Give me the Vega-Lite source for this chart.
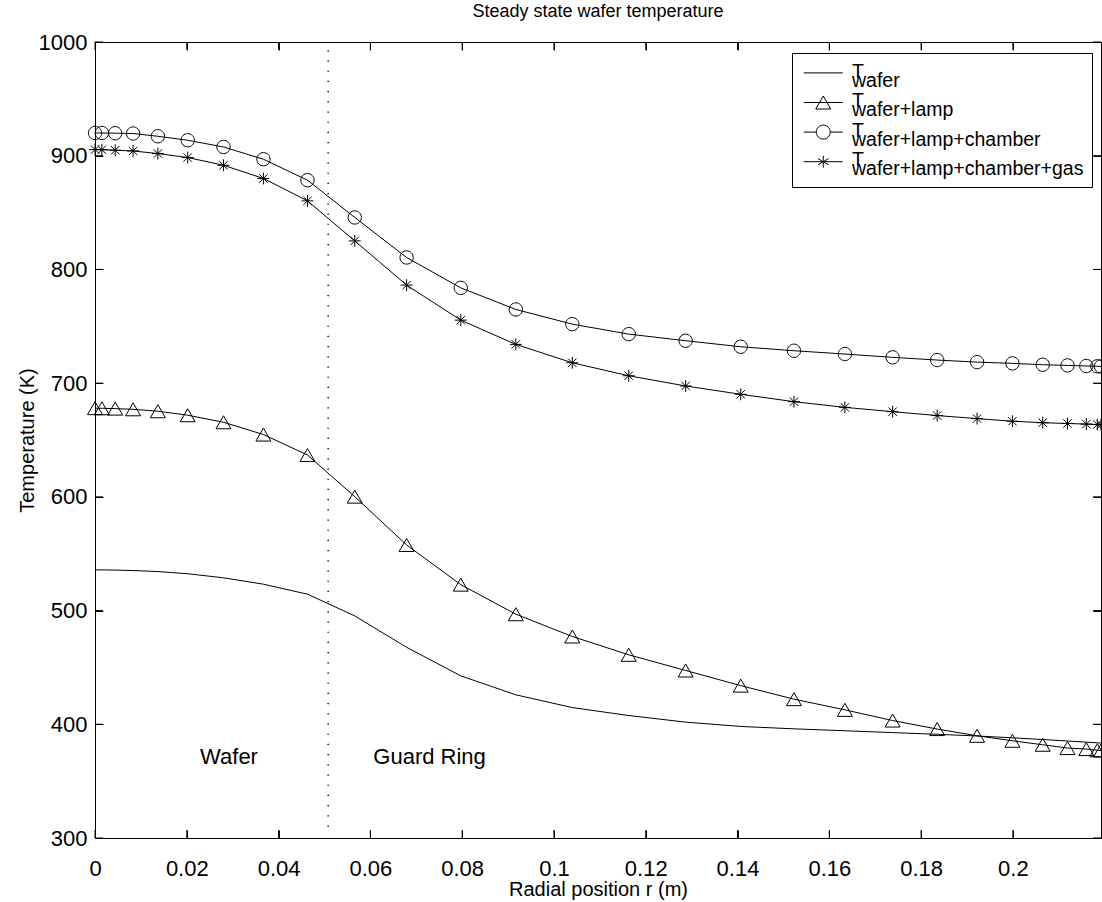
{
  "$schema": "https://vega.github.io/schema/vega-lite/v6.json",
  "width": 1006,
  "height": 796,
  "autosize": {"type": "none"},
  "padding": {"left": 95, "top": 42, "right": 1, "bottom": 64},
  "background": "white",
  "config": {
    "font": "Liberation Sans",
    "view": {"stroke": "black", "strokeWidth": 1},
    "axis": {"labelColor": "black", "titleColor": "black", "domain": false, "grid": false, "labelFontSize": 22, "titleFontSize": 20, "titleFontWeight": "normal"},
    "title": {"color": "black", "fontWeight": "normal", "fontSize": 18},
    "style": {"guide-label": {"lineHeight": 9}}
  },
  "title": {"text": "Steady state wafer temperature", "anchor": "middle", "offset": 10},
  "resolve": {"scale": {"shape": "independent"}},
  "datasets": {
    "temps": [
      {"r": 0, "T": 535.8, "s": "wafer"},
      {"r": 0.0015, "T": 535.8, "s": "wafer"},
      {"r": 0.0044, "T": 535.6, "s": "wafer"},
      {"r": 0.0083, "T": 535.2, "s": "wafer"},
      {"r": 0.0137, "T": 534.3, "s": "wafer"},
      {"r": 0.0202, "T": 532.4, "s": "wafer"},
      {"r": 0.028, "T": 528.8, "s": "wafer"},
      {"r": 0.0367, "T": 523.2, "s": "wafer"},
      {"r": 0.0463, "T": 514.4, "s": "wafer"},
      {"r": 0.0566, "T": 495.3, "s": "wafer"},
      {"r": 0.0679, "T": 467.7, "s": "wafer"},
      {"r": 0.0797, "T": 442.6, "s": "wafer"},
      {"r": 0.0917, "T": 425.9, "s": "wafer"},
      {"r": 0.104, "T": 414.7, "s": "wafer"},
      {"r": 0.1163, "T": 407.7, "s": "wafer"},
      {"r": 0.1287, "T": 401.9, "s": "wafer"},
      {"r": 0.1407, "T": 398.1, "s": "wafer"},
      {"r": 0.1523, "T": 396.0, "s": "wafer"},
      {"r": 0.1634, "T": 394.3, "s": "wafer"},
      {"r": 0.1738, "T": 392.7, "s": "wafer"},
      {"r": 0.1835, "T": 391.2, "s": "wafer"},
      {"r": 0.1922, "T": 389.7, "s": "wafer"},
      {"r": 0.1999, "T": 388.1, "s": "wafer"},
      {"r": 0.2065, "T": 386.6, "s": "wafer"},
      {"r": 0.2119, "T": 385.3, "s": "wafer"},
      {"r": 0.216, "T": 384.3, "s": "wafer"},
      {"r": 0.2184, "T": 383.7, "s": "wafer"},
      {"r": 0.2192, "T": 383.5, "s": "wafer"},
      {"r": 0, "T": 678.0, "s": "wafer+lamp"},
      {"r": 0.0015, "T": 677.9, "s": "wafer+lamp"},
      {"r": 0.0044, "T": 677.6, "s": "wafer+lamp"},
      {"r": 0.0083, "T": 677.0, "s": "wafer+lamp"},
      {"r": 0.0137, "T": 675.3, "s": "wafer+lamp"},
      {"r": 0.0202, "T": 671.8, "s": "wafer+lamp"},
      {"r": 0.028, "T": 665.6, "s": "wafer+lamp"},
      {"r": 0.0367, "T": 654.8, "s": "wafer+lamp"},
      {"r": 0.0463, "T": 636.8, "s": "wafer+lamp"},
      {"r": 0.0566, "T": 600.2, "s": "wafer+lamp"},
      {"r": 0.0679, "T": 557.7, "s": "wafer+lamp"},
      {"r": 0.0797, "T": 522.8, "s": "wafer+lamp"},
      {"r": 0.0917, "T": 496.8, "s": "wafer+lamp"},
      {"r": 0.104, "T": 477.2, "s": "wafer+lamp"},
      {"r": 0.1163, "T": 461.1, "s": "wafer+lamp"},
      {"r": 0.1287, "T": 447.3, "s": "wafer+lamp"},
      {"r": 0.1407, "T": 434.0, "s": "wafer+lamp"},
      {"r": 0.1523, "T": 422.1, "s": "wafer+lamp"},
      {"r": 0.1634, "T": 412.7, "s": "wafer+lamp"},
      {"r": 0.1738, "T": 403.3, "s": "wafer+lamp"},
      {"r": 0.1835, "T": 395.8, "s": "wafer+lamp"},
      {"r": 0.1922, "T": 389.9, "s": "wafer+lamp"},
      {"r": 0.1999, "T": 385.5, "s": "wafer+lamp"},
      {"r": 0.2065, "T": 382.0, "s": "wafer+lamp"},
      {"r": 0.2119, "T": 379.1, "s": "wafer+lamp"},
      {"r": 0.216, "T": 378.2, "s": "wafer+lamp"},
      {"r": 0.2184, "T": 377.2, "s": "wafer+lamp"},
      {"r": 0.2192, "T": 376.9, "s": "wafer+lamp"},
      {"r": 0, "T": 920.0, "s": "wafer+lamp+chamber"},
      {"r": 0.0015, "T": 920.0, "s": "wafer+lamp+chamber"},
      {"r": 0.0044, "T": 919.8, "s": "wafer+lamp+chamber"},
      {"r": 0.0083, "T": 919.5, "s": "wafer+lamp+chamber"},
      {"r": 0.0137, "T": 917.1, "s": "wafer+lamp+chamber"},
      {"r": 0.0202, "T": 913.6, "s": "wafer+lamp+chamber"},
      {"r": 0.028, "T": 907.7, "s": "wafer+lamp+chamber"},
      {"r": 0.0367, "T": 896.9, "s": "wafer+lamp+chamber"},
      {"r": 0.0463, "T": 878.5, "s": "wafer+lamp+chamber"},
      {"r": 0.0566, "T": 845.7, "s": "wafer+lamp+chamber"},
      {"r": 0.0679, "T": 810.5, "s": "wafer+lamp+chamber"},
      {"r": 0.0797, "T": 783.8, "s": "wafer+lamp+chamber"},
      {"r": 0.0917, "T": 764.8, "s": "wafer+lamp+chamber"},
      {"r": 0.104, "T": 751.9, "s": "wafer+lamp+chamber"},
      {"r": 0.1163, "T": 743.1, "s": "wafer+lamp+chamber"},
      {"r": 0.1287, "T": 737.3, "s": "wafer+lamp+chamber"},
      {"r": 0.1407, "T": 732.0, "s": "wafer+lamp+chamber"},
      {"r": 0.1523, "T": 728.5, "s": "wafer+lamp+chamber"},
      {"r": 0.1634, "T": 725.6, "s": "wafer+lamp+chamber"},
      {"r": 0.1738, "T": 722.7, "s": "wafer+lamp+chamber"},
      {"r": 0.1835, "T": 720.3, "s": "wafer+lamp+chamber"},
      {"r": 0.1922, "T": 718.5, "s": "wafer+lamp+chamber"},
      {"r": 0.1999, "T": 717.4, "s": "wafer+lamp+chamber"},
      {"r": 0.2065, "T": 716.2, "s": "wafer+lamp+chamber"},
      {"r": 0.2119, "T": 715.6, "s": "wafer+lamp+chamber"},
      {"r": 0.216, "T": 715.1, "s": "wafer+lamp+chamber"},
      {"r": 0.2184, "T": 714.8, "s": "wafer+lamp+chamber"},
      {"r": 0.2192, "T": 714.7, "s": "wafer+lamp+chamber"},
      {"r": 0, "T": 905.4, "s": "wafer+lamp+chamber+gas"},
      {"r": 0.0015, "T": 905.3, "s": "wafer+lamp+chamber+gas"},
      {"r": 0.0044, "T": 904.8, "s": "wafer+lamp+chamber+gas"},
      {"r": 0.0083, "T": 904.2, "s": "wafer+lamp+chamber+gas"},
      {"r": 0.0137, "T": 901.9, "s": "wafer+lamp+chamber+gas"},
      {"r": 0.0202, "T": 898.4, "s": "wafer+lamp+chamber+gas"},
      {"r": 0.028, "T": 891.6, "s": "wafer+lamp+chamber+gas"},
      {"r": 0.0367, "T": 880.0, "s": "wafer+lamp+chamber+gas"},
      {"r": 0.0463, "T": 860.3, "s": "wafer+lamp+chamber+gas"},
      {"r": 0.0566, "T": 825.1, "s": "wafer+lamp+chamber+gas"},
      {"r": 0.0679, "T": 786.2, "s": "wafer+lamp+chamber+gas"},
      {"r": 0.0797, "T": 755.4, "s": "wafer+lamp+chamber+gas"},
      {"r": 0.0917, "T": 734.1, "s": "wafer+lamp+chamber+gas"},
      {"r": 0.104, "T": 717.9, "s": "wafer+lamp+chamber+gas"},
      {"r": 0.1163, "T": 706.5, "s": "wafer+lamp+chamber+gas"},
      {"r": 0.1287, "T": 697.5, "s": "wafer+lamp+chamber+gas"},
      {"r": 0.1407, "T": 690.2, "s": "wafer+lamp+chamber+gas"},
      {"r": 0.1523, "T": 683.7, "s": "wafer+lamp+chamber+gas"},
      {"r": 0.1634, "T": 678.7, "s": "wafer+lamp+chamber+gas"},
      {"r": 0.1738, "T": 674.9, "s": "wafer+lamp+chamber+gas"},
      {"r": 0.1835, "T": 671.5, "s": "wafer+lamp+chamber+gas"},
      {"r": 0.1922, "T": 668.8, "s": "wafer+lamp+chamber+gas"},
      {"r": 0.1999, "T": 666.5, "s": "wafer+lamp+chamber+gas"},
      {"r": 0.2065, "T": 665.2, "s": "wafer+lamp+chamber+gas"},
      {"r": 0.2119, "T": 664.5, "s": "wafer+lamp+chamber+gas"},
      {"r": 0.216, "T": 664.0, "s": "wafer+lamp+chamber+gas"},
      {"r": 0.2184, "T": 663.6, "s": "wafer+lamp+chamber+gas"},
      {"r": 0.2192, "T": 663.5, "s": "wafer+lamp+chamber+gas"}
    ],
    "xticks": [{"v": 0}, {"v": 0.02}, {"v": 0.04}, {"v": 0.06}, {"v": 0.08}, {"v": 0.1}, {"v": 0.12}, {"v": 0.14}, {"v": 0.16}, {"v": 0.18}, {"v": 0.2}],
    "yticks": [{"v": 300}, {"v": 400}, {"v": 500}, {"v": 600}, {"v": 700}, {"v": 800}, {"v": 900}, {"v": 1000}],
    "boundary": [{"r": 0.0508, "lo": 310, "hi": 1000}],
    "notes": [
      {"r": 0.0292, "T": 371.5, "label": "Wafer"},
      {"r": 0.0729, "T": 371.5, "label": "Guard Ring"}
    ]
  },
  "layer": [
    {
      "data": {"name": "temps"},
      "mark": {"type": "line", "color": "black", "strokeWidth": 1},
      "encoding": {
        "x": {"field": "r", "type": "quantitative", "scale": {"domain": [0, 0.2192], "nice": false, "zero": false},
              "axis": {"orient": "bottom", "values": [0, 0.02, 0.04, 0.06, 0.08, 0.1, 0.12, 0.14, 0.16, 0.18, 0.2], "format": ".2~f", "labelPadding": 20, "title": "Radial position r (m)", "titlePadding": 0, "labelFlush": false,
                       "ticks": true, "tickSize": 8, "tickColor": "black", "tickWidth": 1, "offset": -8, "domain": false, "grid": false}},
        "y": {"field": "T", "type": "quantitative", "scale": {"domain": [300, 1000], "nice": false, "zero": false},
              "axis": {"orient": "left", "values": [300, 400, 500, 600, 700, 800, 900, 1000], "format": "d", "labelPadding": 8, "title": "Temperature (K)", "titlePadding": 1, "labelFlush": false,
                       "ticks": true, "tickSize": 8, "tickColor": "black", "tickWidth": 1, "offset": -8, "domain": false, "grid": false}},
        "detail": {"field": "s"},
        "order": {"field": "r", "type": "quantitative"}
      }
    },
    {
      "data": {"name": "xticks"},
      "mark": {"type": "rule", "color": "black", "strokeWidth": 1},
      "encoding": {
        "x": {"field": "v", "type": "quantitative", "axis": null},
        "y": {"datum": 300, "type": "quantitative", "axis": null},
        "y2": {"datum": 307.03}
      }
    },
    {
      "data": {"name": "xticks"},
      "mark": {"type": "rule", "color": "black", "strokeWidth": 1},
      "encoding": {
        "x": {"field": "v", "type": "quantitative", "axis": null},
        "y": {"datum": 1000, "type": "quantitative", "axis": null},
        "y2": {"datum": 992.97}
      }
    },
    {
      "data": {"name": "yticks"},
      "mark": {"type": "rule", "color": "black", "strokeWidth": 1},
      "encoding": {
        "y": {"field": "v", "type": "quantitative", "axis": null},
        "x": {"datum": 0, "type": "quantitative", "axis": null},
        "x2": {"datum": 0.00174}
      }
    },
    {
      "data": {"name": "yticks"},
      "mark": {"type": "rule", "color": "black", "strokeWidth": 1},
      "encoding": {
        "y": {"field": "v", "type": "quantitative", "axis": null},
        "x": {"datum": 0.2192, "type": "quantitative", "axis": null},
        "x2": {"datum": 0.21746}
      }
    },
    {
      "data": {"name": "temps"},
      "transform": [{"filter": "datum.s !== 'wafer'"}],
      "mark": {"type": "point", "filled": false, "stroke": "black", "strokeWidth": 1, "opacity": 1, "size": 196},
      "encoding": {
        "x": {"field": "r", "type": "quantitative",
              "axis": {"orient": "top", "values": [0, 0.02, 0.04, 0.06, 0.08, 0.1, 0.12, 0.14, 0.16, 0.18, 0.2], "labels": false, "title": null,
                       "ticks": true, "tickSize": 8, "tickColor": "black", "tickWidth": 1, "offset": -8, "domain": false, "grid": false}},
        "y": {"field": "T", "type": "quantitative",
              "axis": {"orient": "right", "values": [300, 400, 500, 600, 700, 800, 900, 1000], "labels": false, "title": null,
                       "ticks": true, "tickSize": 8, "tickColor": "black", "tickWidth": 1, "offset": -8, "domain": false, "grid": false}},
        "shape": {
          "field": "s", "type": "nominal", "legend": null,
          "scale": {
            "domain": ["wafer", "wafer+lamp", "wafer+lamp+chamber", "wafer+lamp+chamber+gas"],
            "range": ["M0,0", "M0,-0.93L1.07,0.93L-1.07,0.93Z", "M0.95,0A0.95,0.95 0 1,1 -0.95,0A0.95,0.95 0 1,1 0.95,0Z", "M0,-0.85L0,0.85M-0.85,0L0.85,0M-0.6,-0.6L0.6,0.6M-0.6,0.6L0.6,-0.6"]
          }
        }
      }
    },
    {
      "data": {"name": "temps"},
      "transform": [{"filter": "false"}],
      "mark": {"type": "point", "filled": false, "stroke": "black", "strokeWidth": 1, "opacity": 1, "size": 400},
      "encoding": {
        "x": {"field": "r", "type": "quantitative", "axis": null},
        "y": {"field": "T", "type": "quantitative", "axis": null},
        "shape": {
          "field": "s", "type": "nominal",
          "scale": {
            "domain": ["wafer", "wafer+lamp", "wafer+lamp+chamber", "wafer+lamp+chamber+gas"],
            "range": [
              "M-0.675,0.14L3.225,0.14",
              "M-0.675,0.14L3.225,0.14M1.275,-0.51L2.025,0.79L0.525,0.79Z",
              "M-0.675,0.14L0.575,0.14M1.975,0.14L3.225,0.14M1.975,0.14A0.7,0.7 0 1,1 0.575,0.14A0.7,0.7 0 1,1 1.975,0.14Z",
              "M-0.675,0.14L3.225,0.14M1.275,-0.46L1.275,0.74M0.755,-0.16L1.795,0.44M0.755,0.44L1.795,-0.16"
            ]
          },
          "legend": {
            "orient": "none", "legendX": 697, "legendY": 11, "title": null,
            "strokeColor": "black", "fillColor": "white", "padding": 8,
            "symbolSize": 400, "symbolStrokeColor": "black", "symbolStrokeWidth": 1,
            "labelFontSize": 19.5, "labelOffset": 31, "labelLimit": 0, "rowPadding": 0.6,
            "labelColor": "black", "labelBaseline": "middle",
            "labelExpr": "['T', datum.label]"
          }
        }
      }
    },
    {
      "data": {"name": "boundary"},
      "mark": {"type": "rule", "color": "black", "strokeWidth": 1.5, "strokeDash": [1.2, 9]},
      "encoding": {
        "x": {"field": "r", "type": "quantitative", "axis": null},
        "y": {"field": "lo", "type": "quantitative", "axis": null},
        "y2": {"field": "hi"}
      }
    },
    {
      "data": {"name": "notes"},
      "mark": {"type": "text", "fontSize": 22, "color": "black", "baseline": "middle", "align": "center"},
      "encoding": {
        "x": {"field": "r", "type": "quantitative", "axis": null},
        "y": {"field": "T", "type": "quantitative", "axis": null},
        "text": {"field": "label"}
      }
    }
  ]
}
